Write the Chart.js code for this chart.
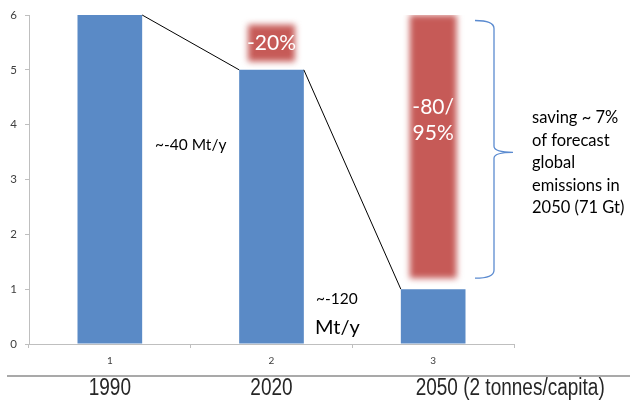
<!DOCTYPE html>
<html lang="en">
<head>
<meta charset="UTF-8">
<title>Emissions per capita</title>
<script src="https://cdn.jsdelivr.net/npm/chart.js"></script>
<style>
  body { margin: 0; background: #fff; }
</style>
</head>
<body>
<canvas id="chart" width="630" height="402"></canvas>
<script>
const categories = ['1', '2', '3'];
const emissions = [6, 5, 1];
// floating red blocks: the "-20%" tag over 2020 and the reduction band over 2050
const reductionBlocks = [null, [5.15, 5.82], [1.2, 6]];
const reductionText = [[], ['-20%'], ['-80/', '95%']];
const yearLabels = ['1990', '2020', '2050 (2 tonnes/capita)'];
const braceNote = ['saving ~ 7%', 'of forecast', 'global', 'emissions in', '2050 (71 Gt)'];

const BLUE = '#5a8ac6';
const RED = '#c65a57';
const FONT = 'Lato, "Open Sans", sans-serif';

// soft edges on the red blocks
const blurRed = {
  id: 'blurRed',
  beforeDatasetDraw(chart, args) {
    if (args.index === 1) {
      chart.ctx.save();
      chart.ctx.filter = 'blur(3px)';
    }
  },
  afterDatasetDraw(chart, args) {
    if (args.index === 1) chart.ctx.restore();
  }
};

const notes = {
  id: 'notes',
  afterDraw(chart) {
    const ctx = chart.ctx;
    const ys = chart.scales.y;
    const bars = chart.getDatasetMeta(0).data;
    const red = chart.getDatasetMeta(1).data;
    ctx.save();

    // connector between bar tops
    ctx.strokeStyle = '#000';
    ctx.lineWidth = 1;
    ctx.beginPath();
    for (let i = 0; i < bars.length - 1; i++) {
      const a = bars[i], b = bars[i + 1];
      ctx.moveTo(a.x + a.width / 2, a.y);
      ctx.lineTo(b.x - b.width / 2, b.y);
    }
    ctx.stroke();

    // white text on the red blocks
    ctx.fillStyle = '#fff';
    ctx.textAlign = 'center';
    ctx.textBaseline = 'middle';
    ctx.font = '21px ' + FONT;
    reductionText.forEach((lines, i) => {
      const el = red[i];
      if (!lines.length || !el) return;
      const top = Math.min(el.y, el.base);
      const first = lines.length === 1 ? top + 18 : top + 92;
      lines.forEach((t, k) => ctx.fillText(t, el.x, first + k * 26));
    });

    // rate notes
    ctx.fillStyle = '#000';
    ctx.font = '15.5px ' + FONT;
    const b12 = (bars[0].x + bars[1].x) / 2;
    ctx.fillText('~-40 Mt/y', b12, 145);
    ctx.textAlign = 'left';
    ctx.fillText('~-120', 316, 299);
    ctx.font = '20px ' + FONT;
    ctx.fillText('Mt/y', 315, 328);

    // curly brace beside the 2050 band
    const yTop = ys.getPixelForValue(5.9), yBot = ys.getPixelForValue(1.2);
    const yMid = (yTop + yBot) / 2 + 3;
    const bx = 494, lx = 475, tx = 513;
    ctx.strokeStyle = '#5b8bd0';
    ctx.lineWidth = 1.3;
    ctx.beginPath();
    ctx.moveTo(lx, yTop);
    ctx.quadraticCurveTo(bx, yTop, bx, yTop + 8);
    ctx.lineTo(bx, yMid - 6);
    ctx.quadraticCurveTo(bx, yMid, tx, yMid);
    ctx.quadraticCurveTo(bx, yMid, bx, yMid + 6);
    ctx.lineTo(bx, yBot - 8);
    ctx.quadraticCurveTo(bx, yBot, lx, yBot);
    ctx.stroke();

    ctx.fillStyle = '#000';
    ctx.font = '16.5px ' + FONT;
    ctx.textAlign = 'left';
    braceNote.forEach((t, k) => ctx.fillText(t, 532, 118 + k * 22.5));

    // bottom rule and year captions
    ctx.strokeStyle = '#8c8c8c';
    ctx.lineWidth = 1.5;
    ctx.beginPath();
    ctx.moveTo(7, 376);
    ctx.lineTo(630, 376);
    ctx.stroke();
    ctx.fillStyle = '#262626';
    ctx.font = '19px "Liberation Sans Narrow", "Arial Narrow", sans-serif';
    ctx.textAlign = 'center';
    const capX = [bars[0].x, bars[1].x, bars[2].x + 77];
    yearLabels.forEach((t, i) => {
      ctx.save();
      ctx.translate(capX[i], 388);
      ctx.scale(1, 1.3);
      ctx.fillText(t, 0, 0);
      ctx.restore();
    });

    ctx.restore();
  }
};

new Chart(document.getElementById('chart'), {
  type: 'bar',
  data: {
    labels: categories,
    datasets: [
      {
        data: emissions,
        backgroundColor: BLUE,
        barPercentage: 0.4,
        categoryPercentage: 1,
        grouped: false,
        order: 1
      },
      {
        data: reductionBlocks,
        backgroundColor: RED,
        barPercentage: 0.29,
        categoryPercentage: 1,
        grouped: false,
        order: 2
      }
    ]
  },
  options: {
    responsive: false,
    animation: false,
    layout: { padding: { top: 15, right: 116, bottom: 30, left: 0 } },
    plugins: {
      legend: { display: false },
      tooltip: { enabled: false }
    },
    scales: {
      x: {
        afterFit: s => { s.height = 28; },
        grid: { drawOnChartArea: false, tickLength: 4, color: '#bfbfbf' },
        border: { color: '#bfbfbf' },
        ticks: { color: '#404040', font: { size: 10, family: FONT }, padding: 7 }
      },
      y: {
        min: 0,
        max: 6,
        afterFit: s => { s.width = 29; },
        grid: { drawOnChartArea: false, tickLength: 4, color: '#bfbfbf' },
        border: { color: '#bfbfbf' },
        ticks: { stepSize: 1, color: '#404040', font: { size: 11.5, family: FONT }, padding: 8 }
      }
    }
  },
  plugins: [blurRed, notes]
});
</script>
</body>
</html>
